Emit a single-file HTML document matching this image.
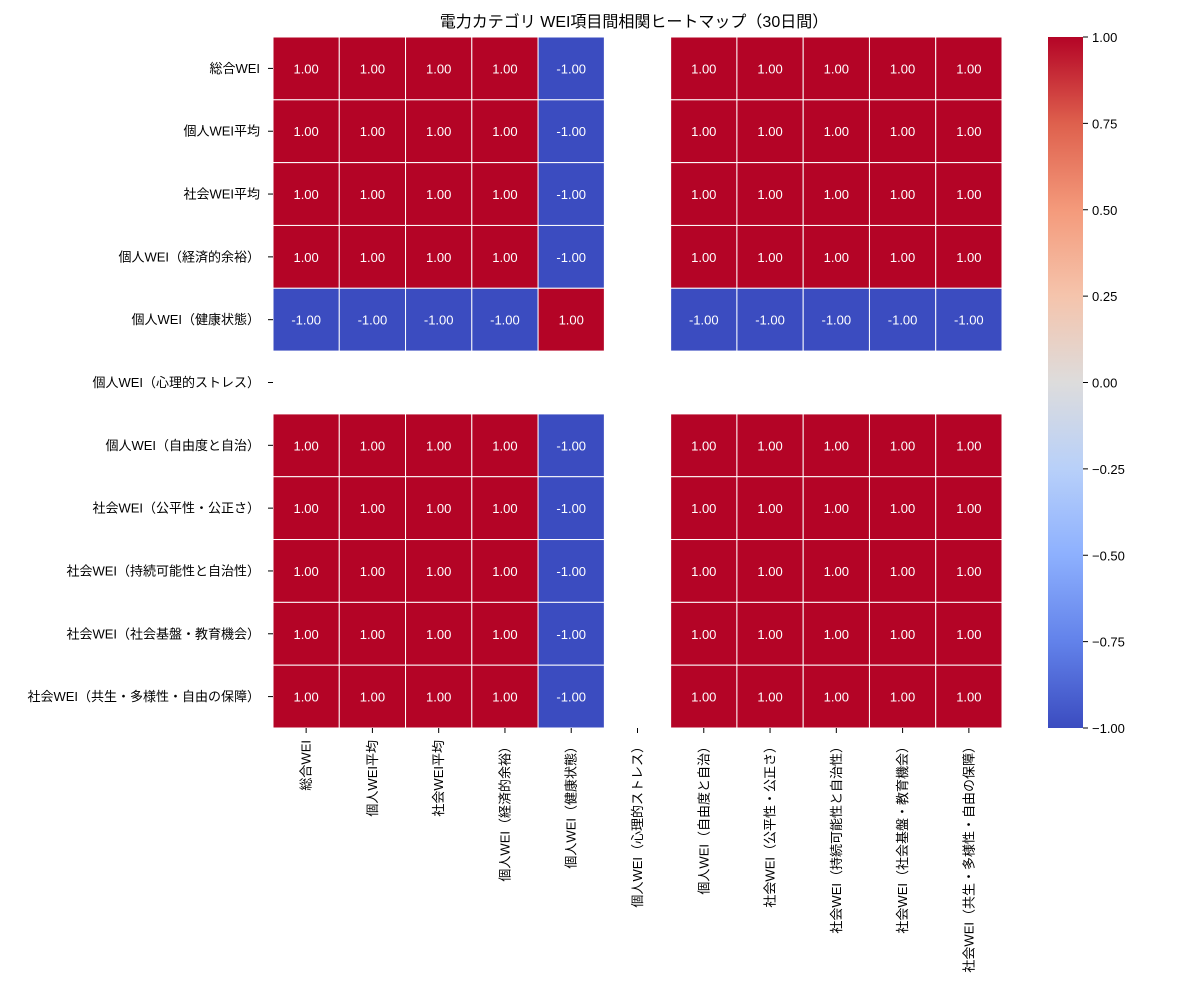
<!DOCTYPE html>
<html><head><meta charset="utf-8"><style>
body{margin:0;background:#fff;font-family:"Liberation Sans","Noto Sans CJK JP",sans-serif}
</style></head><body>
<svg id="c" width="1200" height="1000" xmlns="http://www.w3.org/2000/svg" font-family="Liberation Sans, Noto Sans CJK JP, sans-serif">
<defs><linearGradient id="cw" x1="0" y1="1" x2="0" y2="0">
<stop offset="0" stop-color="#3b4cc0"/><stop offset="0.125" stop-color="#6282ea"/><stop offset="0.25" stop-color="#8db0fe"/><stop offset="0.375" stop-color="#b8d0f9"/><stop offset="0.5" stop-color="#dddcdc"/><stop offset="0.625" stop-color="#f5c4ac"/><stop offset="0.75" stop-color="#f49a7b"/><stop offset="0.875" stop-color="#de604d"/><stop offset="1" stop-color="#b40426"/>
</linearGradient></defs>
<text x="634" y="27" text-anchor="middle" font-size="16" fill="#000">電力カテゴリ WEI項目間相関ヒートマップ（30日間）</text>
<g id="cells"></g>
<rect x="1048" y="37" width="35" height="691" fill="url(#cw)"/>
<g id="cb"></g>
</svg>
<script>
const labels=["総合WEI","個人WEI平均","社会WEI平均","個人WEI（経済的余裕）","個人WEI（健康状態）","個人WEI（心理的ストレス）","個人WEI（自由度と自治）","社会WEI（公平性・公正さ）","社会WEI（持続可能性と自治性）","社会WEI（社会基盤・教育機会）","社会WEI（共生・多様性・自由の保障）"];
const N=null;
const values=[
[1,1,1,1,-1,N,1,1,1,1,1],
[1,1,1,1,-1,N,1,1,1,1,1],
[1,1,1,1,-1,N,1,1,1,1,1],
[1,1,1,1,-1,N,1,1,1,1,1],
[-1,-1,-1,-1,1,N,-1,-1,-1,-1,-1],
[N,N,N,N,N,N,N,N,N,N,N],
[1,1,1,1,-1,N,1,1,1,1,1],
[1,1,1,1,-1,N,1,1,1,1,1],
[1,1,1,1,-1,N,1,1,1,1,1],
[1,1,1,1,-1,N,1,1,1,1,1],
[1,1,1,1,-1,N,1,1,1,1,1]];
const cbTicks=[-1,-0.75,-0.5,-0.25,0,0.25,0.5,0.75,1];
const NS="http://www.w3.org/2000/svg";
const X0=273,X1=1002,Y0=37,Y1=728,n=labels.length;
const cw=(X1-X0)/n,ch=(Y1-Y0)/n;
const xs=i=>X0+i*cw, ys=i=>Y0+i*ch;
const stops=[[59,76,192],[98,130,234],[141,176,254],[184,208,249],[221,220,220],[245,196,172],[244,154,123],[222,96,77],[180,4,38]];
function color(v){let t=(v+1)/2*8;let i=Math.min(7,Math.floor(t)),f=t-i;const a=stops[i],b=stops[i+1];return `rgb(${a.map((c,k)=>Math.round(c+(b[k]-c)*f)).join(',')})`;}
function mk(tag,attrs,parent){const e=document.createElementNS(NS,tag);for(const k in attrs)e.setAttribute(k,attrs[k]);parent.appendChild(e);return e;}
const g=document.getElementById('cells'),svg=document.getElementById('c'),cb=document.getElementById('cb');
values.forEach((row,r)=>row.forEach((v,c)=>{if(v===null)return;
 const rect=mk('rect',{x:xs(c),y:ys(r),width:cw,height:ch,fill:color(v),stroke:'#fff','stroke-width':1},g);
 
 
 const t=mk('text',{x:xs(c)+cw/2,y:ys(r)+ch/2+5,'text-anchor':'middle','font-size':13,fill:'#fff'},g);
 t.textContent=v.toFixed(2);
 
 
}));
labels.forEach((l,i)=>{
 const cy=ys(i)+ch/2;
 mk('line',{x1:X0-5,x2:X0,y1:cy,y2:cy,stroke:'#000'},svg);
 const t=mk('text',{x:X0-13,y:cy+4.5,'text-anchor':'end','font-size':13,fill:'#000'},svg);
 t.textContent=l;
 
 
 const cx=xs(i)+cw/2;
 mk('line',{x1:cx,x2:cx,y1:Y1,y2:Y1+5,stroke:'#000'},svg);
 const u=mk('text',{x:cx+4.5,y:Y1+12,'text-anchor':'end','font-size':13,fill:'#000',transform:`rotate(-90 ${cx+4.5} ${Y1+12})`},svg);
 u.textContent=l;
 
 
});
cbTicks.forEach(v=>{
 const y=Y1-(v+1)/2*(Y1-Y0);
 mk('line',{x1:1083,x2:1088,y1:y,y2:y,stroke:'#000'},cb);
 const t=mk('text',{x:1092,y:y+5,'font-size':13,fill:'#000'},cb);
 t.textContent=(v<0?'\u2212':'')+Math.abs(v).toFixed(2);
 
 
});
</script>
</body></html>
